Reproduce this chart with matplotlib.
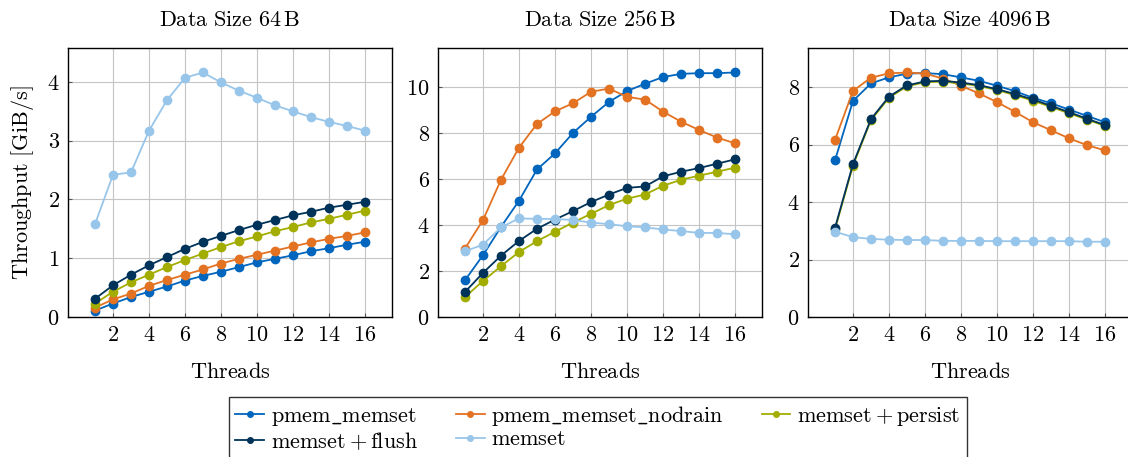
"""
Memset throughput on persistent memory for three data sizes.
"""

import matplotlib.pyplot as plt
from matplotlib.lines import Line2D

plt.rcParams['font.family'] = 'serif'
plt.rcParams['font.serif'] = ['cmr10']
plt.rcParams['mathtext.fontset'] = 'cm'
plt.rcParams['axes.formatter.use_mathtext'] = True

threads = list(range(1, 17))

# 64 B
pmem_64 = [0.11, 0.23, 0.34, 0.43, 0.52, 0.62, 0.70, 0.77, 0.85, 0.93, 0.99, 1.05, 1.12, 1.17, 1.23, 1.28]
nodrain_64 = [0.16, 0.30, 0.40, 0.53, 0.63, 0.72, 0.81, 0.91, 0.99, 1.06, 1.13, 1.20, 1.27, 1.33, 1.38, 1.44]
persist_64 = [0.23, 0.43, 0.59, 0.72, 0.85, 0.97, 1.08, 1.19, 1.29, 1.37, 1.46, 1.53, 1.61, 1.67, 1.74, 1.81]
flush_64 = [0.31, 0.54, 0.72, 0.88, 1.02, 1.16, 1.28, 1.38, 1.48, 1.57, 1.65, 1.73, 1.79, 1.86, 1.91, 1.96]
memset_64 = [1.58, 2.42, 2.46, 3.17, 3.69, 4.07, 4.16, 3.99, 3.85, 3.73, 3.60, 3.50, 3.40, 3.32, 3.25, 3.17]

# 256 B
pmem_256 = [1.60, 2.69, 3.92, 5.06, 6.42, 7.12, 8.01, 8.71, 9.36, 9.83, 10.15, 10.44, 10.58, 10.61, 10.61, 10.64]
nodrain_256 = [2.98, 4.22, 5.97, 7.37, 8.40, 8.95, 9.30, 9.80, 9.94, 9.58, 9.46, 8.94, 8.50, 8.14, 7.81, 7.56]
persist_256 = [0.87, 1.57, 2.21, 2.83, 3.30, 3.71, 4.11, 4.49, 4.87, 5.15, 5.33, 5.71, 5.97, 6.15, 6.32, 6.50]
flush_256 = [1.09, 1.92, 2.67, 3.31, 3.84, 4.24, 4.61, 5.00, 5.33, 5.62, 5.68, 6.12, 6.32, 6.48, 6.67, 6.86]
memset_256 = [2.86, 3.15, 3.90, 4.29, 4.27, 4.27, 4.22, 4.11, 4.04, 3.95, 3.90, 3.81, 3.74, 3.66, 3.66, 3.60]

# 4096 B
pmem_4096 = [5.45, 7.52, 8.13, 8.34, 8.47, 8.49, 8.45, 8.34, 8.22, 8.05, 7.86, 7.63, 7.44, 7.22, 7.00, 6.78]
nodrain_4096 = [6.16, 7.87, 8.33, 8.48, 8.51, 8.47, 8.30, 8.05, 7.78, 7.48, 7.14, 6.78, 6.50, 6.22, 5.98, 5.80]
persist_4096 = [3.05, 5.27, 6.85, 7.63, 8.03, 8.17, 8.19, 8.13, 8.04, 7.90, 7.72, 7.53, 7.31, 7.09, 6.87, 6.65]
flush_4096 = [3.10, 5.32, 6.89, 7.67, 8.06, 8.20, 8.22, 8.16, 8.07, 7.93, 7.76, 7.57, 7.35, 7.13, 6.90, 6.68]
memset_4096 = [2.97, 2.78, 2.72, 2.69, 2.68, 2.68, 2.65, 2.65, 2.65, 2.64, 2.64, 2.64, 2.64, 2.64, 2.62, 2.62]

sizes = ['64', '256', '4096']
series = [
    [pmem_64, nodrain_64, persist_64, flush_64, memset_64],
    [pmem_256, nodrain_256, persist_256, flush_256, memset_256],
    [pmem_4096, nodrain_4096, persist_4096, flush_4096, memset_4096],
]

labels = [r'$\mathrm{pmem\_memset}$', r'$\mathrm{pmem\_memset\_nodrain}$',
          r'$\mathrm{memset} + \mathrm{persist}$', r'$\mathrm{memset} + \mathrm{flush}$',
          r'$\mathrm{memset}$']
colors = ['#0065BD', '#E37222', '#A2AD00', '#003359', '#98C6EA']

fs = 16
fig = plt.figure(figsize=(11.28, 4.57), dpi=100)
lefts = [0.0603, 0.3883, 0.7163]

for i, (size, data) in enumerate(zip(sizes, series)):
    ax = fig.add_axes([lefts[i], 0.3063, 0.2872, 0.5886])
    for vals, col in zip(data, colors):
        ax.plot(threads, vals, '-o', color=col, linewidth=1.3, markersize=6)
    top = max(max(v) for v in data) * 1.1
    ax.set_xlim(-0.5, 17.5)
    ax.set_ylim(0, top)
    ax.set_xticks(range(2, 17, 2))
    ax.grid(True, color='#c4c4c4', linewidth=0.8)
    ax.set_axisbelow(True)
    ax.tick_params(direction='in', length=3, labelsize=fs, color='#555555', pad=6)
    for sp in ax.spines.values():
        sp.set_linewidth(1.0)
        sp.set_color('black')
    ax.set_title(r'$\mathrm{Data\ Size\ %s\,B}$' % size, fontsize=fs, pad=16)
    ax.set_xlabel(r'$\mathrm{Threads}$', fontsize=fs, labelpad=12)
    if i == 0:
        ax.set_ylabel(r'$\mathrm{Throughput\ [GiB/s]}$', fontsize=fs, labelpad=8)

handles = [Line2D([], [], color=c, marker='o', markersize=4, linewidth=1.3) for c in colors]
order = [0, 3, 1, 4, 2]
fig.legend([handles[k] for k in order], [labels[k] for k in order],
           loc='upper center', bbox_to_anchor=(0.530, 1 - 397 / 457), ncol=3,
           fontsize=fs, frameon=True, fancybox=False, edgecolor='black',
           handlelength=1.3, handletextpad=0.3, columnspacing=1.7,
           labelspacing=0.1, borderpad=0.3, borderaxespad=0)

fig.savefig('out.png', dpi=100)
